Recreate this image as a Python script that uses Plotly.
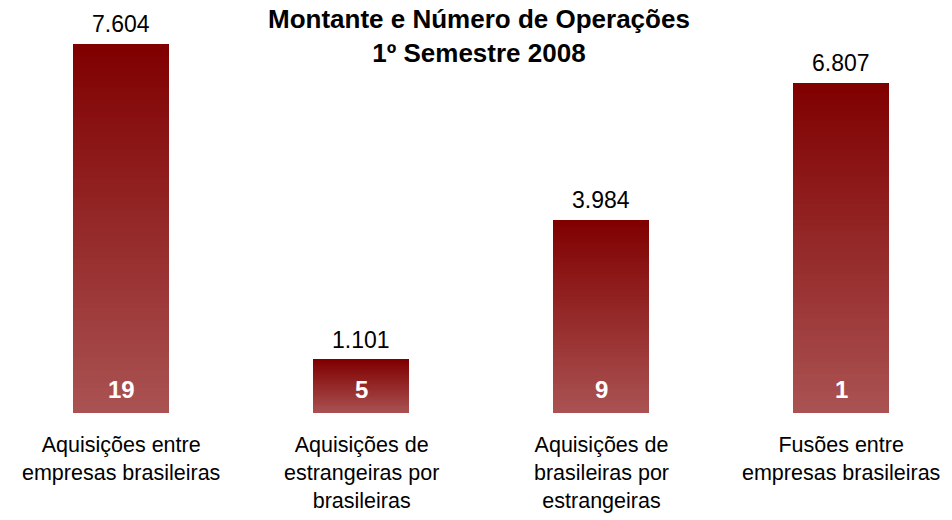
import plotly.graph_objects as go

categories = [
    "Aquisições entre<br>empresas brasileiras",
    "Aquisições de<br>estrangeiras por<br>brasileiras",
    "Aquisições de<br>brasileiras por<br>estrangeiras",
    "Fusões entre<br>empresas brasileiras",
]
montante = [7.604, 1.101, 3.984, 6.807]
montante_labels = ["7.604", "1.101", "3.984", "6.807"]
operacoes = [19, 5, 9, 1]

title_text = "<b>Montante e Número de Operações<br>1º Semestre 2008</b>"

top_rgb = (128, 0, 0)
bottom_rgb = (170, 82, 82)
N_SEG = 60

xs = list(range(len(categories)))
fig = go.Figure()
for k in range(N_SEG):
    t = k / (N_SEG - 1)  # 0 bottom -> 1 top
    c = tuple(round(bottom_rgb[i] + (top_rgb[i] - bottom_rgb[i]) * t) for i in range(3))
    fig.add_trace(go.Bar(
        x=xs, y=[v / N_SEG for v in montante], width=0.4,
        marker=dict(color="rgb(%d,%d,%d)" % c, line=dict(width=0)),
        hoverinfo="skip", showlegend=False,
    ))

ann = []
for i, (v, lab, n, cat) in enumerate(zip(montante, montante_labels, operacoes, categories)):
    ann.append(dict(x=i, y=v, text=lab, showarrow=False, yanchor="bottom", yshift=5,
                    font=dict(size=23, color="#000000", family="Liberation Sans, Arial")))
    ann.append(dict(x=i, y=0, text="<b>%d</b>" % n, showarrow=False, yanchor="middle", yshift=24,
                    font=dict(size=24, color="#ffffff", family="Liberation Sans, Arial")))
    ann.append(dict(x=i, y=0, text=cat, showarrow=False, yanchor="top", yshift=-18,
                    font=dict(size=21.5, color="#000000", family="Liberation Sans, Arial")))
ann.append(dict(x=0.503, y=1, xref="paper", yref="paper", text=title_text, showarrow=False,
                yanchor="top", yshift=-2,
                font=dict(size=26, color="#000000", family="Liberation Sans, Arial")))

px_per_unit = 240.0
x_min = -121 / px_per_unit
x_max = x_min + 952 / px_per_unit

fig.update_layout(
    width=952, height=520,
    margin=dict(l=0, r=0, t=0, b=107),
    barmode="stack", bargap=0,
    plot_bgcolor="white", paper_bgcolor="white",
    xaxis=dict(range=[x_min, x_max], visible=False, fixedrange=True),
    yaxis=dict(range=[0, 413 / 48.53], visible=False, fixedrange=True),
    annotations=ann,
)
fig.write_html("out.html", config={"displayModeBar": False},
               post_script="document.body.style.margin='0';document.body.style.padding='0';")
